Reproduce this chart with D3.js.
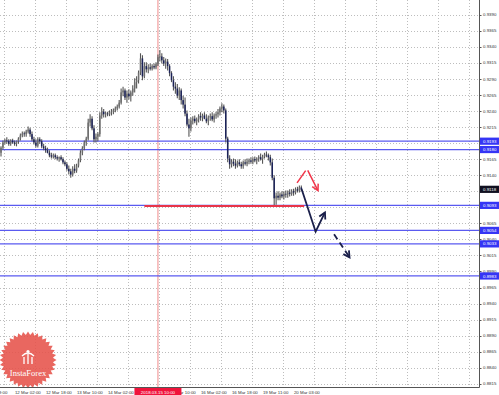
<!DOCTYPE html>
<html>
<head>
<meta charset="utf-8">
<script src="https://cdn.jsdelivr.net/npm/d3@7"></script>
<style>
  body { margin: 0; background: #fff; }
  svg { display: block; }
  .lbl { font-family: "Liberation Sans", Arial, sans-serif; font-size: 4.4px; fill: #333; }
</style>
</head>
<body>
<div id="chart"></div>
<script>
var svgWidth = 499;
var svgHeight = 395;
var plotRight = 479;
var plotBottom = 387;

// hourly bars, left to right
var opens = [
  0.9175,0.9183,0.9191,0.9194,0.9193,0.9189,0.9194,0.9191,0.9189,0.9193,
  0.9197,0.9202,0.9205,0.9204,0.9208,0.9211,0.9204,0.9196,0.9191,0.9186,
  0.9196,0.9193,0.9185,0.9182,0.9179,0.9175,0.9171,0.9169,0.9171,0.9168,
  0.9166,0.9168,0.9165,0.9160,0.9157,0.9150,0.9146,0.9141,0.9150,0.9147,
  0.9155,0.9163,0.9175,0.9182,0.9191,0.9197,0.9222,0.9228,0.9213,0.9196,
  0.9200,0.9204,0.9233,0.9239,0.9235,0.9236,0.9235,0.9238,0.9239,0.9241,
  0.9244,0.9247,0.9253,0.9269,0.9272,0.9261,0.9267,0.9263,0.9269,0.9275,
  0.9285,0.9288,0.9300,0.9322,0.9294,0.9310,0.9305,0.9308,0.9306,0.9310,
  0.9308,0.9313,0.9324,0.9325,0.9319,0.9314,0.9317,0.9310,0.9299,0.9288,
  0.9278,0.9275,0.9264,0.9272,0.9257,0.9250,0.9236,0.9219,0.9213,0.9225,
  0.9228,0.9224,0.9227,0.9232,0.9230,0.9233,0.9228,0.9224,0.9230,0.9232,
  0.9227,0.9233,0.9235,0.9238,0.9244,0.9247,0.9241,0.9197,0.9166,0.9157,
  0.9161,0.9158,0.9155,0.9160,0.9157,0.9154,0.9160,0.9158,0.9161,0.9163,
  0.9161,0.9165,0.9163,0.9166,0.9168,0.9165,0.9169,0.9172,0.9171,0.9168,
  0.9160,0.9136,0.9104,0.9108,0.9105,0.9110,0.9107,0.9111,0.9110,0.9113,
  0.9111,0.9115,0.9113,0.9118,0.9116,0.9121
];
var highs = [
  0.9185,0.9194,0.9197,0.9199,0.9196,0.9196,0.9197,0.9194,0.9194,0.9199,
  0.9205,0.9208,0.9208,0.9211,0.9216,0.9214,0.9208,0.9200,0.9196,0.9199,
  0.9199,0.9196,0.9189,0.9186,0.9183,0.9179,0.9175,0.9174,0.9174,0.9171,
  0.9169,0.9171,0.9168,0.9163,0.9160,0.9155,0.9150,0.9154,0.9157,0.9158,
  0.9166,0.9179,0.9185,0.9194,0.9200,0.9228,0.9235,0.9232,0.9218,0.9205,
  0.9207,0.9238,0.9246,0.9243,0.9239,0.9239,0.9241,0.9243,0.9244,0.9247,
  0.9250,0.9257,0.9275,0.9278,0.9275,0.9272,0.9274,0.9272,0.9280,0.9291,
  0.9294,0.9303,0.9330,0.9327,0.9316,0.9316,0.9313,0.9314,0.9313,0.9314,
  0.9316,0.9328,0.9335,0.9330,0.9324,0.9322,0.9321,0.9313,0.9302,0.9294,
  0.9285,0.9282,0.9277,0.9275,0.9264,0.9261,0.9241,0.9228,0.9230,0.9232,
  0.9233,0.9230,0.9235,0.9238,0.9236,0.9238,0.9235,0.9233,0.9236,0.9238,
  0.9236,0.9239,0.9243,0.9247,0.9252,0.9250,0.9244,0.9200,0.9171,0.9165,
  0.9166,0.9165,0.9163,0.9165,0.9161,0.9163,0.9165,0.9166,0.9166,0.9168,
  0.9168,0.9169,0.9168,0.9171,0.9174,0.9172,0.9175,0.9177,0.9174,0.9172,
  0.9166,0.9140,0.9113,0.9115,0.9113,0.9115,0.9115,0.9116,0.9116,0.9118,
  0.9118,0.9119,0.9121,0.9122,0.9124,0.9124
];
var lows = [
  0.9169,0.9180,0.9188,0.9189,0.9186,0.9186,0.9189,0.9186,0.9185,0.9189,
  0.9194,0.9199,0.9200,0.9200,0.9205,0.9200,0.9193,0.9188,0.9183,0.9183,
  0.9189,0.9182,0.9179,0.9175,0.9174,0.9168,0.9166,0.9166,0.9165,0.9163,
  0.9161,0.9163,0.9157,0.9154,0.9147,0.9141,0.9136,0.9138,0.9143,0.9144,
  0.9152,0.9160,0.9171,0.9179,0.9186,0.9194,0.9216,0.9210,0.9191,0.9191,
  0.9193,0.9200,0.9228,0.9230,0.9230,0.9232,0.9232,0.9233,0.9235,0.9238,
  0.9241,0.9244,0.9250,0.9263,0.9257,0.9253,0.9258,0.9255,0.9264,0.9269,
  0.9275,0.9283,0.9296,0.9288,0.9291,0.9300,0.9299,0.9303,0.9303,0.9305,
  0.9305,0.9310,0.9317,0.9314,0.9310,0.9306,0.9303,0.9294,0.9285,0.9272,
  0.9267,0.9260,0.9257,0.9250,0.9244,0.9232,0.9216,0.9200,0.9208,0.9219,
  0.9221,0.9218,0.9222,0.9225,0.9224,0.9227,0.9221,0.9218,0.9225,0.9224,
  0.9222,0.9228,0.9230,0.9233,0.9238,0.9236,0.9191,0.9160,0.9150,0.9152,
  0.9154,0.9150,0.9152,0.9154,0.9150,0.9150,0.9155,0.9154,0.9157,0.9158,
  0.9157,0.9160,0.9157,0.9161,0.9163,0.9158,0.9166,0.9168,0.9163,0.9155,
  0.9132,0.9093,0.9094,0.9101,0.9101,0.9104,0.9102,0.9105,0.9105,0.9107,
  0.9108,0.9108,0.9110,0.9113,0.9113,0.9115
];
var closes = [
  0.9183,0.9191,0.9194,0.9193,0.9189,0.9194,0.9191,0.9189,0.9193,0.9197,
  0.9202,0.9205,0.9204,0.9208,0.9211,0.9204,0.9196,0.9191,0.9186,0.9196,
  0.9193,0.9185,0.9182,0.9179,0.9175,0.9171,0.9169,0.9171,0.9168,0.9166,
  0.9168,0.9165,0.9160,0.9157,0.9150,0.9146,0.9141,0.9150,0.9147,0.9155,
  0.9163,0.9175,0.9182,0.9191,0.9197,0.9222,0.9228,0.9213,0.9196,0.9200,
  0.9204,0.9233,0.9239,0.9235,0.9236,0.9235,0.9238,0.9239,0.9241,0.9244,
  0.9247,0.9253,0.9269,0.9272,0.9261,0.9267,0.9263,0.9269,0.9275,0.9285,
  0.9288,0.9300,0.9322,0.9294,0.9310,0.9305,0.9308,0.9306,0.9310,0.9308,
  0.9313,0.9324,0.9325,0.9319,0.9314,0.9317,0.9310,0.9299,0.9288,0.9278,
  0.9275,0.9264,0.9272,0.9257,0.9250,0.9236,0.9219,0.9213,0.9225,0.9228,
  0.9224,0.9227,0.9232,0.9230,0.9233,0.9228,0.9224,0.9230,0.9232,0.9227,
  0.9233,0.9235,0.9238,0.9244,0.9247,0.9241,0.9197,0.9166,0.9157,0.9161,
  0.9158,0.9155,0.9160,0.9157,0.9154,0.9160,0.9158,0.9161,0.9163,0.9161,
  0.9165,0.9163,0.9166,0.9168,0.9165,0.9169,0.9172,0.9171,0.9168,0.9160,
  0.9136,0.9104,0.9108,0.9105,0.9110,0.9107,0.9111,0.9110,0.9113,0.9111,
  0.9115,0.9113,0.9118,0.9116,0.9121,0.9118
];

var yTicks = [0.9415,0.9390,0.9365,0.9340,0.9315,0.9290,0.9265,0.9240,0.9215,0.9190,
  0.9165,0.9140,0.9115,0.9090,0.9065,0.9040,0.9015,0.8990,0.8965,0.8940,0.8915,
  0.8890,0.8865,0.8840,0.8815];
// labels hidden behind the red time marker are left out
var timeLabels = ["9 Mar 09:00","12 Mar 02:00","12 Mar 18:00","13 Mar 10:00","14 Mar 02:00",
  "15 Mar 10:00","16 Mar 02:00","16 Mar 18:00","19 Mar 11:00","20 Mar 03:00"];
var timeLabelBars = [-14.5,1.5,17.5,33.5,49.5,81.5,97.5,113.5,129.5,145.5];

var levelPrices = [0.9193,0.9180,0.9093,0.9054,0.9033,0.8983];
var currentPrice = 0.9118;
var markerBar = 81;
var markerLabel = "2018.03.15 10:00";
var supportPrice = 0.9092;
var supportBars = [74, 156.5];
var redArrow = [[152.8,0.9128],[157.9,0.9150],[163.6,0.9116]];
var blackArrow = [[155.1,0.9119],[162.4,0.9052],[167.2,0.9082]];
var dashArrow = [[171.9,0.9048],[179.9,0.9012]];

var svg = d3.select("#chart").append("svg")
  .attr("width", svgWidth)
  .attr("height", svgHeight)
  .style("background", "#fff");

var xScale = d3.scaleLinear().domain([0, 16]).range([1, 32]);
var yScale = d3.scaleLinear().domain([0.8810, 0.9413]).range([plotBottom, 0]);

var plot = svg.append("g");

// grid
plot.selectAll(".hgrid").data(yTicks).enter().append("line")
  .attr("x1", 0).attr("x2", plotRight)
  .attr("y1", d => Math.round(yScale(d)) + 0.5).attr("y2", d => Math.round(yScale(d)) + 0.5)
  .attr("stroke", "#bdbdbd").attr("stroke-dasharray", "1,2");

var gridBars = d3.range(-14.5, 250, 16);
plot.selectAll(".vgrid").data(gridBars).enter().append("line")
  .attr("x1", d => Math.round(xScale(d)) + 0.5).attr("x2", d => Math.round(xScale(d)) + 0.5)
  .attr("y1", 0).attr("y2", plotBottom)
  .attr("stroke", "#bdbdbd").attr("stroke-dasharray", "1,2");

// logo
var logo = svg.append("g").attr("transform", "translate(28,360)").attr("opacity", 0.88);
var teeth = d3.range(72).map(function (j) {
  var a = j * Math.PI / 36, r = j % 2 ? 25 : 28.5;
  return [Math.cos(a) * r, Math.sin(a) * r];
});
logo.append("polygon").attr("points", teeth.join(" ")).attr("fill", "#e6534b");
logo.append("path")
  .attr("d", "M-4,4 L-4,-3 M0,4 L0,-6 M4,4 L4,-3 M-6,-4 Q0,-10 6,-4")
  .attr("stroke", "#fff").attr("stroke-width", 1.3).attr("fill", "none");
logo.append("circle").attr("cx", 0).attr("cy", -8.5).attr("r", 1.6).attr("fill", "#fff");
logo.append("text").attr("x", 0).attr("y", 15.5)
  .attr("text-anchor", "middle")
  .style("font-family", "'Liberation Serif', serif").style("font-size", "8.5px")
  .attr("fill", "#fff").text("InstaForex");

// marker vertical line
plot.append("line")
  .attr("x1", xScale(markerBar)).attr("x2", xScale(markerBar))
  .attr("y1", 0).attr("y2", plotBottom)
  .attr("stroke", "#f08a8a").attr("stroke-width", 1);

// levels
plot.selectAll(".level").data(levelPrices).enter().append("line")
  .attr("x1", 0).attr("x2", plotRight)
  .attr("y1", d => yScale(d)).attr("y2", d => yScale(d))
  .attr("stroke", "#5a5af0").attr("stroke-width", 1.2);

// bars
var bars = plot.append("g");
closes.forEach(function (c, i) {
  var x = xScale(i);
  bars.append("line")
    .attr("x1", x).attr("x2", x)
    .attr("y1", yScale(highs[i])).attr("y2", yScale(lows[i]))
    .attr("stroke", "#555").attr("stroke-width", 1.1);
  var top = yScale(Math.max(opens[i], c));
  var bot = yScale(Math.min(opens[i], c));
  bars.append("rect")
    .attr("x", x - 0.75).attr("width", 1.5)
    .attr("y", top).attr("height", Math.max(0.7, bot - top))
    .attr("fill", c < opens[i] ? "#1b2258" : "#6e6e6e");
});

// support line
plot.append("line")
  .attr("x1", xScale(supportBars[0])).attr("x2", xScale(supportBars[1]))
  .attr("y1", yScale(supportPrice)).attr("y2", yScale(supportPrice))
  .attr("stroke", "#e8344a").attr("stroke-width", 2);

// arrows
var line = d3.line().x(d => xScale(d[0])).y(d => yScale(d[1]));

function arrowHead(pts, color, width) {
  var a = pts[pts.length - 2], b = pts[pts.length - 1];
  var ax = xScale(a[0]), ay = yScale(a[1]), bx = xScale(b[0]), by = yScale(b[1]);
  var ang = Math.atan2(by - ay, bx - ax);
  var len = 7, spread = 0.5;
  var p1 = [bx - len * Math.cos(ang - spread), by - len * Math.sin(ang - spread)];
  var p2 = [bx - len * Math.cos(ang + spread), by - len * Math.sin(ang + spread)];
  plot.append("path")
    .attr("d", "M" + p1 + "L" + [bx, by] + "L" + p2)
    .attr("fill", "none").attr("stroke", color).attr("stroke-width", width);
}

plot.append("path").attr("d", line(redArrow))
  .attr("fill", "none").attr("stroke", "#f0364a").attr("stroke-width", 1.5)
  .attr("stroke-dasharray", "15,4,40");
arrowHead(redArrow, "#f0364a", 1.5);

plot.append("path").attr("d", line(blackArrow))
  .attr("fill", "none").attr("stroke", "#1a1f4a").attr("stroke-width", 1.8);
arrowHead(blackArrow, "#1a1f4a", 1.8);

plot.append("path").attr("d", line(dashArrow))
  .attr("fill", "none").attr("stroke", "#1a1f4a").attr("stroke-width", 1.8)
  .attr("stroke-dasharray", "6,4");
arrowHead(dashArrow, "#1a1f4a", 1.8);

// frame
svg.append("line").attr("x1", plotRight + 0.5).attr("x2", plotRight + 0.5)
  .attr("y1", 0).attr("y2", plotBottom + 0.5).attr("stroke", "#555");
svg.append("line").attr("x1", 0).attr("x2", plotRight + 0.5)
  .attr("y1", plotBottom + 0.5).attr("y2", plotBottom + 0.5).attr("stroke", "#555");

// price axis; tick labels fully under a level box are not drawn
var boxPrices = levelPrices.concat([currentPrice]);
var visibleTicks = yTicks.filter(function (t) {
  return boxPrices.every(p => Math.abs(yScale(p) - yScale(t)) > 4);
});
svg.selectAll(".ytick").data(yTicks).enter().append("line")
  .attr("x1", plotRight).attr("x2", plotRight + 2.5)
  .attr("y1", d => Math.round(yScale(d)) + 0.5).attr("y2", d => Math.round(yScale(d)) + 0.5)
  .attr("stroke", "#555");
svg.selectAll(".ylab").data(visibleTicks).enter().append("text")
  .attr("class", "lbl")
  .attr("x", plotRight + 4).attr("y", d => yScale(d) + 1.6)
  .text(d => d.toFixed(4));

function priceBox(v, color) {
  var y = yScale(v);
  svg.append("rect").attr("x", plotRight + 1).attr("y", y - 3.6)
    .attr("width", svgWidth - plotRight - 1).attr("height", 7.2).attr("fill", color);
  svg.append("text").attr("class", "lbl").attr("x", plotRight + 4).attr("y", y + 1.6)
    .style("fill", "#fff").text(v.toFixed(4));
}
levelPrices.forEach(v => priceBox(v, "#3535f5"));
priceBox(currentPrice, "#101020");

// time axis
svg.selectAll(".xlab").data(timeLabels).enter().append("text")
  .attr("class", "lbl")
  .attr("x", (d, i) => xScale(timeLabelBars[i]) + 11)
  .attr("y", 393.5)
  .text(d => d);

var mx = xScale(markerBar);
svg.append("rect").attr("x", mx - 23.5).attr("y", plotBottom + 1)
  .attr("width", 47).attr("height", 7).attr("fill", "#f0143c");
svg.append("text").attr("class", "lbl").attr("x", mx).attr("y", 393.5)
  .attr("text-anchor", "middle").style("fill", "#fff").text(markerLabel);
</script>
</body>
</html>
